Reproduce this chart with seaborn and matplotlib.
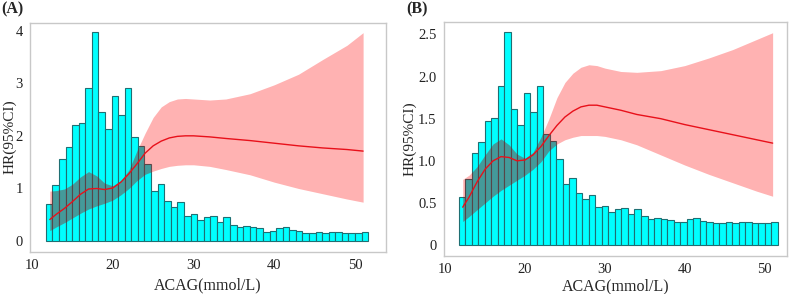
import matplotlib
matplotlib.use("Agg")
import matplotlib.pyplot as plt
from matplotlib.path import Path
import pandas as pd
import seaborn as sns

# histogram of ACAG (bar heights on the HR scale of each panel)
bin_start = 11.7
bin_width = 0.815
hist_a = [0.70, 1.06, 1.56, 1.79, 2.20, 2.25, 2.90, 3.97, 2.45, 2.13,
          2.75, 2.39, 2.90, 1.97, 1.81, 1.46, 0.96, 1.09, 0.77, 0.65,
          0.74, 0.48, 0.52, 0.40, 0.46, 0.48, 0.36, 0.46, 0.31, 0.27,
          0.29, 0.27, 0.25, 0.18, 0.20, 0.24, 0.27, 0.22, 0.20, 0.16,
          0.16, 0.18, 0.16, 0.18, 0.18, 0.16, 0.16, 0.16, 0.18]
hist_b = [0.57, 0.79, 1.09, 1.22, 1.47, 1.51, 1.89, 2.53, 1.62, 1.43,
          1.80, 1.58, 1.89, 1.32, 1.24, 1.02, 0.73, 0.80, 0.62, 0.55,
          0.60, 0.45, 0.47, 0.39, 0.43, 0.44, 0.37, 0.43, 0.34, 0.31,
          0.32, 0.31, 0.30, 0.27, 0.28, 0.31, 0.32, 0.29, 0.28, 0.26,
          0.26, 0.27, 0.26, 0.27, 0.27, 0.26, 0.26, 0.26, 0.27]

# restricted cubic spline HR curves
acag = [12.2, 13, 14, 15, 16, 17, 18, 19, 20, 21, 22, 23, 24, 25, 26, 27,
        28, 29, 30, 32, 34, 37, 40, 43, 46, 49, 51]
hr_a = [0.41, 0.51, 0.62, 0.75, 0.89, 0.99, 1.00, 0.98, 1.01, 1.12, 1.28,
        1.47, 1.67, 1.81, 1.90, 1.96, 1.99, 2.00, 2.00, 1.98, 1.95, 1.91,
        1.86, 1.81, 1.77, 1.74, 1.71]
up_a = [0.95, 0.96, 0.99, 1.08, 1.22, 1.32, 1.24, 1.10, 1.05, 1.15, 1.35,
        1.72, 2.05, 2.35, 2.55, 2.65, 2.70, 2.71, 2.70, 2.68, 2.70, 2.80,
        2.97, 3.17, 3.45, 3.72, 3.96]
lo_a = [0.20, 0.27, 0.35, 0.44, 0.53, 0.61, 0.67, 0.72, 0.78, 0.88, 1.00,
        1.15, 1.27, 1.33, 1.38, 1.42, 1.44, 1.45, 1.45, 1.42, 1.36, 1.26,
        1.12, 1.00, 0.90, 0.80, 0.74]
hr_b = [0.45, 0.57, 0.75, 0.90, 1.00, 1.05, 1.04, 1.00, 1.01, 1.07, 1.17,
        1.30, 1.42, 1.52, 1.59, 1.64, 1.66, 1.66, 1.64, 1.60, 1.55, 1.50,
        1.43, 1.37, 1.31, 1.25, 1.21]
up_b = [0.78, 0.83, 0.93, 1.07, 1.20, 1.26, 1.19, 1.08, 1.03, 1.10, 1.28,
        1.50, 1.75, 1.93, 2.04, 2.11, 2.14, 2.13, 2.10, 2.06, 2.05, 2.07,
        2.13, 2.22, 2.32, 2.44, 2.52]
lo_b = [0.28, 0.34, 0.42, 0.50, 0.58, 0.65, 0.71, 0.77, 0.83, 0.90, 0.99,
        1.12, 1.20, 1.25, 1.28, 1.30, 1.30, 1.30, 1.29, 1.25, 1.19, 1.07,
        0.95, 0.84, 0.74, 0.64, 0.58]

yticks_a = [0, 1, 2, 3, 4]
ytick_labels_a = ["0", "1", "2", "3", "4"]
yticks_b = [0, 0.5, 1.0, 1.5, 2.0, 2.5]
ytick_labels_b = ["0", "0.5", "1.0", "1.5", "2.0", "2.5"]
xticks = [10, 20, 30, 40, 50]

sns.set_style("white")
plt.rcParams['font.family'] = ['Liberation Serif', 'DejaVu Serif']


def draw_panel(ax, heights, hr, lo, up, yticks, ylabels, xlim, ylim, xlab_y, ylab_x):
    edges = [bin_start + bin_width * i for i in range(len(heights) + 1)]
    centers = [(edges[i] + edges[i + 1]) / 2 for i in range(len(heights))]
    hist_df = pd.DataFrame({"acag": centers, "h": heights})
    sns.histplot(data=hist_df, x="acag", weights="h", bins=edges, stat="count",
                 color="#00FFFF", edgecolor="#1f6f73", linewidth=0.8, alpha=1, ax=ax)
    bars = list(ax.patches)

    # pink confidence band
    ax.fill_between(acag, lo, up, color="#FF0000", alpha=0.3, linewidth=0)
    # slightly darker where the band lies over the bars
    bar_path = Path.make_compound_path(
        *[p.get_path().transformed(p.get_patch_transform()) for p in bars])
    shade = ax.fill_between(acag, lo, up, color="#202020", alpha=0.16, linewidth=0)
    shade.set_clip_path(bar_path, ax.transData)

    df = pd.DataFrame({"x": acag, "y": hr})
    sns.lineplot(data=df, x="x", y="y", color="#E8101A", linewidth=1.0, ax=ax)

    ax.set_xlim(*xlim)
    ax.set_ylim(*ylim)
    ax.set_xticks(xticks)
    ax.set_xticklabels([str(t) for t in xticks], fontsize=10.5)
    ax.set_yticks(yticks)
    ax.set_yticklabels(ylabels, fontsize=10.5)
    ax.set_xlabel("ACAG(mmol/L)", fontsize=11.5)
    ax.set_ylabel("HR(95%CI)", fontsize=11)
    ax.xaxis.set_label_coords(0.5, xlab_y)
    ax.yaxis.set_label_coords(ylab_x, 0.5)
    for s in ax.spines.values():
        s.set_color("#c8c8c8")
        s.set_linewidth(1.0)
    ax.tick_params(axis="both", direction="out", length=3, width=0.8,
                   color="#b0b0b0", pad=2, labelcolor="#222222")


fig = plt.figure(figsize=(7.94, 2.94), dpi=100)
ax_a = fig.add_axes([0.0378, 0.144, 0.448, 0.779])
ax_b = fig.add_axes([0.5586, 0.129, 0.4326, 0.797])

draw_panel(ax_a, hist_a, hr_a, lo_a, up_a, yticks_a, ytick_labels_a,
           (9.75, 53.8), (-0.2, 4.15), -0.112, -0.038)
draw_panel(ax_b, hist_b, hr_b, lo_b, up_b, yticks_b, ytick_labels_b,
           (9.8, 52.8), (-0.13, 2.65), -0.095, -0.078)

fig.text(0.001, 0.995, "(A)", fontsize=11.5, fontweight="bold", va="top", ha="left")
fig.text(0.512, 0.995, "(B)", fontsize=11.5, fontweight="bold", va="top", ha="left")

fig.savefig("out.png", dpi=100)
